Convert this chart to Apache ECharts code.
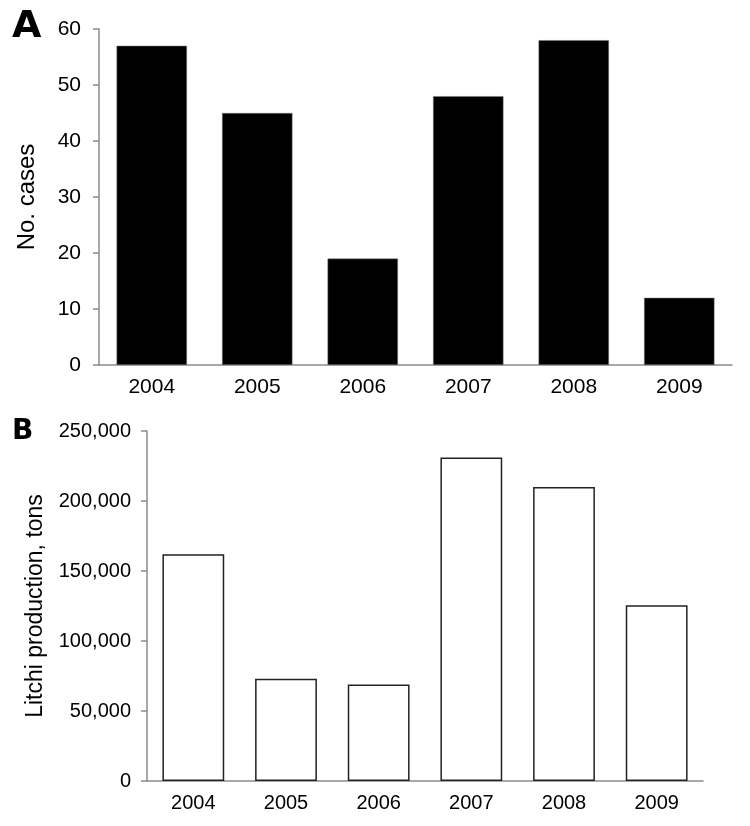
<!DOCTYPE html>
<html>
<head>
<meta charset="utf-8">
<script src="https://cdn.jsdelivr.net/npm/echarts@6/dist/echarts.min.js"></script>
<style>
  html, body { margin: 0; padding: 0; background: #fff; }
  #chart { width: 750px; height: 826px; }
</style>
</head>
<body>
<div id="chart"></div>
<script>
const years = ["2004", "2005", "2006", "2007", "2008", "2009"];
const cases = [57, 45, 19, 48, 58, 12];
const litchiTons = [162000, 73000, 69000, 231000, 210000, 125500];

const font = "Liberation Sans, Arial, sans-serif";
const axisGray = "#8c8c8c";

const chart = echarts.init(document.getElementById("chart"));

const yCommon = {
  type: "value",
  axisLine: { show: true, lineStyle: { color: axisGray, width: 1.5 } },
  axisTick: { show: true, length: 6, lineStyle: { color: axisGray, width: 1.5 } },
  splitLine: { show: false },
  nameLocation: "middle",
  nameTextStyle: { color: "#000", fontFamily: font },
};
const xCommon = {
  type: "category",
  data: years,
  axisLine: { lineStyle: { color: axisGray, width: 1.5 } },
  axisTick: { show: false },
  axisLabel: { color: "#000", fontFamily: font, margin: 12 },
};

chart.setOption({
  animation: false,
  grid: [
    { left: 99, top: 29, width: 633, height: 336 },
    { left: 147, top: 431, width: 556, height: 350 },
  ],
  xAxis: [
    { ...xCommon, gridIndex: 0, axisLabel: { ...xCommon.axisLabel, fontSize: 21 } },
    { ...xCommon, gridIndex: 1, axisLabel: { ...xCommon.axisLabel, fontSize: 20 } },
  ],
  yAxis: [
    {
      ...yCommon,
      gridIndex: 0,
      min: 0, max: 60, interval: 10,
      name: "No. cases",
      nameGap: 60,
      nameTextStyle: { ...yCommon.nameTextStyle, fontSize: 24 },
      axisLabel: { color: "#000", fontFamily: font, fontSize: 21, margin: 18 },
    },
    {
      ...yCommon,
      gridIndex: 1,
      min: 0, max: 250000, interval: 50000,
      name: "Litchi production, tons",
      nameGap: 100,
      nameTextStyle: { ...yCommon.nameTextStyle, fontSize: 23 },
      axisLabel: {
        color: "#000", fontFamily: font, fontSize: 20, margin: 16,
        formatter: (v) => v.toLocaleString("en-US"),
      },
    },
  ],
  graphic: [
    { type: "text", left: 12, top: 8, style: { text: "A", fontSize: 38, fontWeight: 900, fontFamily: "DejaVu Sans", fill: "#000" } },
    { type: "text", left: 12, top: 418, style: { text: "B", fontSize: 28, fontWeight: 900, fontFamily: "DejaVu Sans", fill: "#000" } },
  ],
  series: [
    {
      type: "bar",
      xAxisIndex: 0, yAxisIndex: 0,
      data: cases,
      barCategoryGap: "33.3%",
      itemStyle: { color: "#000", borderColor: "#777", borderWidth: 0.5 },
    },
    {
      type: "bar",
      xAxisIndex: 1, yAxisIndex: 1,
      data: litchiTons,
      barCategoryGap: "33.3%",
      itemStyle: { color: "#fff", borderColor: "#222", borderWidth: 1.5 },
    },
  ],
});
</script>
</body>
</html>
